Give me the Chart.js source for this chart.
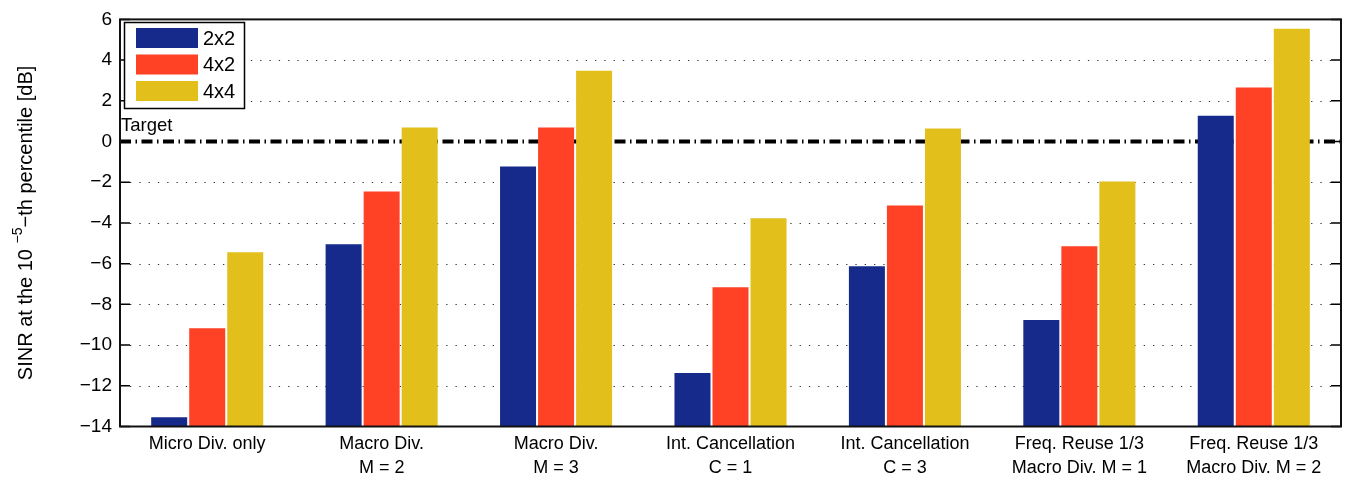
<!DOCTYPE html>
<html>
<head>
<meta charset="utf-8">
<script src="https://cdn.jsdelivr.net/npm/chart.js@4.4.0/dist/chart.umd.min.js"></script>
<style>
  html, body { margin: 0; padding: 0; background: #fff; }
  #wrap { width: 1351px; height: 479px; position: relative; }
</style>
</head>
<body>
<div id="wrap"><canvas id="grafica"></canvas></div>
<script>
// datos
const categorias = [
    ['Micro Div. only'],
    ['Macro Div.', 'M = 2'],
    ['Macro Div.', 'M = 3'],
    ['Int. Cancellation', 'C = 1'],
    ['Int. Cancellation', 'C = 3'],
    ['Freq. Reuse 1/3', 'Macro Div. M = 1'],
    ['Freq. Reuse 1/3', 'Macro Div. M = 2']
];
const series = ['2x2', '4x2', '4x4'];
const valores2x2 = [-13.54, -5.05, -1.23, -11.37, -6.13, -8.77, 1.27];
const valores4x2 = [-9.17, -2.45, 0.69, -7.16, -3.14, -5.15, 2.65];
const valores4x4 = [-5.44, 0.69, 3.48, -3.77, 0.64, -1.96, 5.54];
const colores = ['rgb(21,42,138)', 'rgb(255,65,38)', 'rgb(226,191,27)'];
const yMin = -14;
const yMax = 6;
const yPaso = 2;
const objetivo = 0;
const textoObjetivo = 'Target';

const fuente = '"Liberation Sans", Arial, Helvetica, sans-serif';

// plugin para dibujar las cosas estilo matlab
const estiloMatlab = {
    id: 'estiloMatlab',
    beforeDatasetsDraw(chart) {
        const ctx = chart.ctx;
        const area = chart.chartArea;
        const ejeY = chart.scales.y;
        ctx.save();
        // rejilla punteada
        ctx.strokeStyle = '#333';
        ctx.lineWidth = 1;
        ctx.setLineDash([1.3, 8]);
        ejeY.ticks.forEach(t => {
            if (t.value === yMin || t.value === yMax || t.value === objetivo) return;
            const y = Math.round(ejeY.getPixelForValue(t.value)) + 0.5;
            ctx.beginPath();
            ctx.moveTo(area.left + 10, y);
            ctx.lineTo(area.right - 10, y);
            ctx.stroke();
        });
        // linea del objetivo
        const yo = ejeY.getPixelForValue(objetivo);
        ctx.strokeStyle = '#000';
        ctx.lineWidth = 4;
        ctx.setLineDash([11, 4.5, 1.5, 4.5]);
        ctx.beginPath();
        ctx.moveTo(area.left, yo);
        ctx.lineTo(area.right, yo);
        ctx.stroke();
        ctx.restore();
    },
    afterDatasetsDraw(chart) {
        const ctx = chart.ctx;
        const area = chart.chartArea;
        const ejeY = chart.scales.y;
        ctx.save();
        // marcas hacia adentro
        ctx.strokeStyle = '#000';
        ctx.lineWidth = 1.5;
        ejeY.ticks.forEach(t => {
            const y = ejeY.getPixelForValue(t.value);
            ctx.beginPath();
            ctx.moveTo(area.left, y);
            ctx.lineTo(area.left + 10, y);
            ctx.moveTo(area.right - 10, y);
            ctx.lineTo(area.right, y);
            ctx.stroke();
        });
        // caja
        ctx.lineWidth = 2;
        ctx.strokeStyle = '#111';
        ctx.strokeRect(area.left, area.top, area.right - area.left, area.bottom - area.top);

        // texto Target
        ctx.fillStyle = '#000';
        ctx.font = '18.5px ' + fuente;
        ctx.textAlign = 'left';
        ctx.textBaseline = 'alphabetic';
        ctx.fillText(textoObjetivo, area.left + 1, ejeY.getPixelForValue(objetivo) - 11);

        // leyenda
        const lx = 124.5, ly = 22.5, lw = 120, lh = 86;
        ctx.fillStyle = '#fff';
        ctx.fillRect(lx, ly, lw, lh);
        ctx.strokeStyle = '#000';
        ctx.lineWidth = 1.5;
        ctx.strokeRect(lx, ly, lw, lh);
        ctx.font = '20px ' + fuente;
        ctx.textBaseline = 'middle';
        chart.data.datasets.forEach((ds, i) => {
            const top = 28 + i * 26.5;
            ctx.fillStyle = ds.backgroundColor;
            ctx.fillRect(136, top, 62, 20);
            ctx.fillStyle = '#000';
            ctx.fillText(ds.label, 203, top + 11);
        });

        // titulo del eje y con superindice
        const cy = (area.top + area.bottom) / 2;
        ctx.translate(32, cy);
        ctx.rotate(-Math.PI / 2);
        ctx.textBaseline = 'alphabetic';
        ctx.textAlign = 'left';
        const parte1 = 'SINR at the 10 ';
        const sup = '\u22125';
        const parte2 = '\u2212th percentile [dB]';
        ctx.font = '20px ' + fuente;
        const w1 = ctx.measureText(parte1).width;
        const w3 = ctx.measureText(parte2).width;
        ctx.font = '14px ' + fuente;
        const w2 = ctx.measureText(sup).width;
        let x = -(w1 + w2 + w3) / 2;
        ctx.font = '20px ' + fuente;
        ctx.fillText(parte1, x, 0);
        x += w1;
        ctx.font = '14px ' + fuente;
        ctx.fillText(sup, x, -10);
        x += w2;
        ctx.font = '20px ' + fuente;
        ctx.fillText(parte2, x, 0);
        ctx.restore();
    }
};

function initGrafica() {
    const ctx = document.getElementById('grafica').getContext('2d');
    const listas = [valores2x2, valores4x2, valores4x4];

    new Chart(ctx, {
        type: 'bar',
        data: {
            labels: categorias,
            datasets: series.map((nombre, i) => ({
                label: nombre,
                data: listas[i],
                backgroundColor: colores[i],
                base: yMin,
                borderWidth: 0,
                categoryPercentage: 0.654,
                barPercentage: 0.947
            }))
        },
        options: {
            responsive: true,
            maintainAspectRatio: false,
            animation: false,
            layout: { padding: { left: 0, right: 10, top: 18.5, bottom: 0 } },
            plugins: {
                legend: { display: false },
                tooltip: { enabled: false }
            },
            scales: {
                x: {
                    grid: { display: false, drawTicks: false },
                    border: { display: false },
                    ticks: {
                        color: '#000',
                        padding: 5,
                        maxRotation: 0,
                        autoSkip: false,
                        font: { family: fuente, size: 18, lineHeight: 1.35 }
                    },
                    afterFit: s => { s.height = 52.5; }
                },
                y: {
                    min: yMin,
                    max: yMax,
                    grid: { display: false, drawTicks: false },
                    border: { display: false },
                    ticks: {
                        stepSize: yPaso,
                        color: '#000',
                        padding: 8,
                        font: { family: fuente, size: 19 },
                        callback: v => (v < 0 ? '\u2212' : '') + Math.abs(v)
                    },
                    afterFit: s => { s.width = 120; }
                }
            }
        },
        plugins: [estiloMatlab]
    });
}

document.addEventListener('DOMContentLoaded', initGrafica);
</script>
</body>
</html>
